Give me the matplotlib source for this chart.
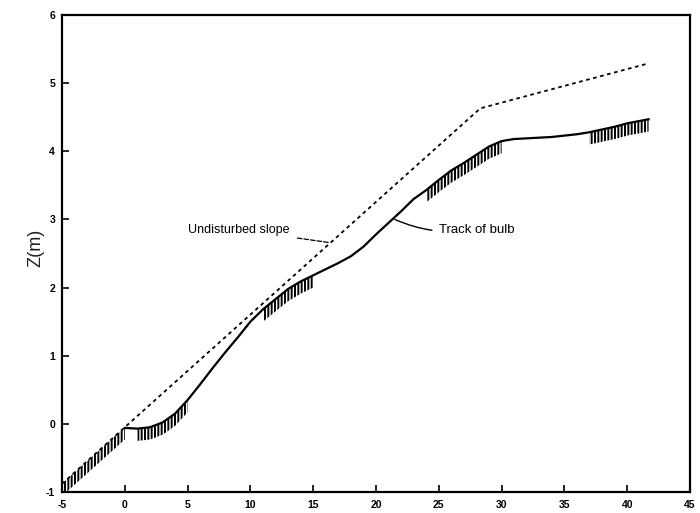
import numpy as np
import matplotlib.pyplot as plt

# --------------------------------- #
# data

slope_x = [-5, 0, 28.3, 41.7]
slope_z = [-0.88, -0.05, 4.63, 5.29]

track_x = [0, 1, 2, 3, 4, 5, 6, 7, 8, 9, 10, 11, 12, 13, 14, 15, 16, 17,
           18, 19, 20, 21, 22, 23, 24, 25, 26, 27, 28, 29, 30, 31, 32, 33,
           34, 35, 36, 37, 38, 39, 40, 41.7]
track_z = [-0.06, -0.07, -0.05, 0.02, 0.15, 0.35, 0.58, 0.82, 1.05, 1.27,
           1.5, 1.68, 1.83, 1.98, 2.09, 2.18, 2.27, 2.36, 2.46, 2.6, 2.78,
           2.95, 3.12, 3.3, 3.43, 3.58, 3.72, 3.83, 3.95, 4.07, 4.15, 4.18,
           4.19, 4.2, 4.21, 4.23, 4.25, 4.28, 4.32, 4.36, 4.41, 4.47]

# stretches of the bed that are hatched
slope_hatch = [(-5, 0)]
track_hatch = [(0.5, 5.3), (11, 15.5), (23.5, 30.5), (37, 41.7)]

xticks = [-5, 0, 5, 10, 15, 20, 25, 30, 35, 40, 45]
yticks = [-1, 0, 1, 2, 3, 4, 5, 6]

# --------------------------------- #

plt.rcParams['font.family'] = ['Liberation Sans', 'DejaVu Sans']
plt.rcParams['hatch.linewidth'] = 1.4

fig = plt.figure(figsize=(7.0, 5.13), dpi=100)
ax = fig.add_axes([62 / 700, 21 / 513, 628 / 700, 477 / 513])

ax.plot(slope_x, slope_z, color='black', lw=1.3, linestyle=(0, (2, 2)))
ax.plot(track_x, track_z, color='black', lw=1.6)

sx = np.array(slope_x)
sz = np.array(slope_z)
for a, b in slope_hatch:
    ax.fill_between(sx, sz - 0.18, sz, where=(sx >= a) & (sx <= b),
                    facecolor='none', edgecolor='black', hatch='|||||', lw=0)

tx = np.array(track_x)
tz = np.array(track_z)
for a, b in track_hatch:
    ax.fill_between(tx, tz - 0.18, tz, where=(tx >= a) & (tx <= b),
                    facecolor='none', edgecolor='black', hatch='|||||', lw=0)

ax.annotate('Undisturbed slope', xy=(16.3, 2.66), xytext=(5.0, 2.85),
            ha='left', va='center', fontsize=9,
            arrowprops=dict(arrowstyle='-', lw=0.9, linestyle='--',
                            shrinkA=4, shrinkB=0))
ax.annotate('Track of bulb', xy=(21.5, 3.0), xytext=(25.0, 2.85),
            ha='left', va='center', fontsize=9.5,
            arrowprops=dict(arrowstyle='-', lw=1.0,
                            connectionstyle='arc3,rad=-0.15',
                            shrinkA=3, shrinkB=0))

ax.set_xlim(-5, 45)
ax.set_ylim(-1, 6)
ax.set_xticks(xticks)
ax.set_yticks(yticks)
ax.set_xticklabels([str(v) for v in xticks], fontsize=7.5, fontweight='bold')
ax.set_yticklabels([str(v) for v in yticks], fontsize=7.5, fontweight='bold')
ax.tick_params(direction='in', length=5, width=1.2, pad=5)
ax.tick_params(axis='x', pad=6)

for s in ax.spines.values():
    s.set_linewidth(1.6)

fig.text(36 / 700, 1 - 248 / 513, 'Z(m)', rotation=90, ha='center',
         va='center', fontsize=13, color='#222222')

fig.savefig('out.png', dpi=100)
